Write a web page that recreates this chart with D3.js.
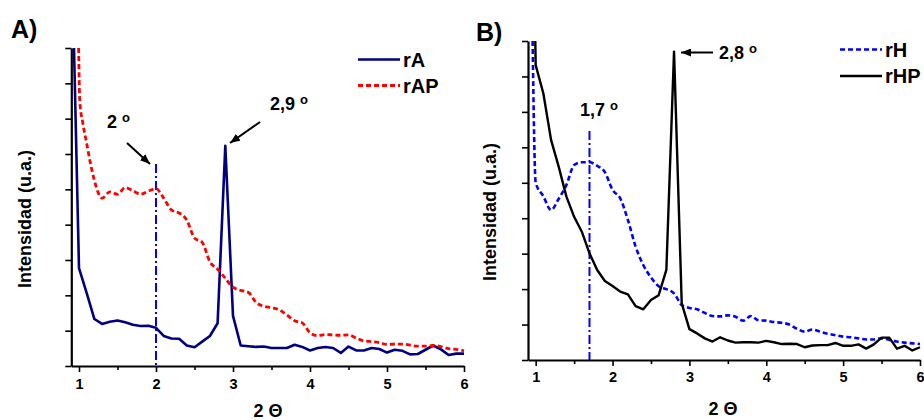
<!DOCTYPE html>
<html>
<head>
<meta charset="utf-8">
<script src="https://cdn.jsdelivr.net/npm/d3@7"></script>
<style>
  body { margin: 0; background: #fff; }
  svg { display: block; }
  text { font-family: "Liberation Sans", Arial, Helvetica, sans-serif; font-weight: bold; fill: #000; }
</style>
</head>
<body>
<svg id="chart" width="924" height="420"></svg>
<script>
// 2θ grid of the diffractograms (degrees)
const twoTheta = [1.0,1.1,1.2,1.3,1.4,1.5,1.6,1.7,1.8,1.9,
                  2.0,2.1,2.2,2.3,2.4,2.5,2.6,2.7,2.8,2.9,
                  3.0,3.1,3.2,3.3,3.4,3.5,3.6,3.7,3.8,3.9,
                  4.0,4.1,4.2,4.3,4.4,4.5,4.6,4.7,4.8,4.9,
                  5.0,5.1,5.2,5.3,5.4,5.5,5.6,5.7,5.8,5.9,6.0];

// Panel A — sample rA (solid) and rAP (dashed), intensity in arbitrary units
const rA_x = [0.935, ...twoTheta];
const rA = [9.0,
  2.77,2.06,1.33,1.19,1.25,1.29,1.24,1.17,1.13,1.14,
  1.08,0.85,0.78,0.77,0.58,0.53,0.69,0.85,1.21,6.23,
  1.42,0.58,0.56,0.54,0.55,0.51,0.51,0.51,0.60,0.54,
  0.44,0.51,0.54,0.51,0.37,0.55,0.44,0.44,0.51,0.48,
  0.38,0.46,0.43,0.33,0.34,0.46,0.58,0.47,0.31,0.35,0.35];

const rAP_x = [0.995,1.01,1.05,1.1,1.15,1.2,1.25, ...twoTheta.slice(3)];
const rAP = [9.0,7.5,6.87,6.3,5.72,5.25,4.9,
  4.75,4.93,4.86,5.05,4.96,4.86,4.95,
  5.02,4.75,4.42,4.33,4.13,3.62,3.50,2.95,2.74,2.48,
  2.23,2.14,2.08,1.80,1.69,1.65,1.59,1.44,1.28,1.22,
  0.94,0.86,0.89,0.88,0.87,0.88,0.79,0.71,0.69,0.66,
  0.61,0.62,0.62,0.59,0.56,0.56,0.58,0.55,0.49,0.47,0.43];

// Panel B — sample rH (dashed) and rHP (solid)
const rH_x = [0.96, ...twoTheta];
const rH = [9.0,
  5.00,4.62,4.23,4.55,4.94,5.50,5.58,5.58,5.48,5.30,
  4.80,4.56,3.95,3.20,2.68,2.33,2.08,2.00,1.88,1.55,
  1.47,1.43,1.33,1.24,1.23,1.26,1.22,1.11,1.24,1.12,
  1.11,1.07,1.05,1.00,0.88,0.80,0.86,0.80,0.74,0.70,
  0.66,0.64,0.61,0.58,0.58,0.61,0.57,0.52,0.49,0.47,0.45];

const rHP_x = [0.995, ...twoTheta];
const rHP = [9.0,
  8.32,7.52,6.21,5.45,4.61,4.04,3.62,3.01,2.54,2.23,
  2.09,1.93,1.85,1.52,1.43,1.69,1.83,2.54,8.70,1.60,
  0.87,0.75,0.61,0.52,0.64,0.55,0.49,0.50,0.50,0.49,
  0.54,0.50,0.45,0.46,0.45,0.36,0.41,0.42,0.42,0.48,
  0.40,0.40,0.44,0.32,0.44,0.63,0.63,0.32,0.40,0.27,0.36];

// axis ticks
const xMajorTicks = [1, 2, 3, 4, 5, 6];
const xMinorTicks = [1.5, 2.5, 3.5, 4.5, 5.5];
const yTicks = [0, 1, 2, 3, 4, 5, 6, 7, 8, 9];

// texts
const panelTitles = ["A)", "B)"];
const yTitle = "Intensidad (u.a.)";
const xTitle = "2 \u0398";

const svg = d3.select("#chart");

svg.append("defs").append("marker")
  .attr("id", "arrowhead")
  .attr("viewBox", "0 0 10 8")
  .attr("refX", 10).attr("refY", 4)
  .attr("markerUnits", "userSpaceOnUse")
  .attr("markerWidth", 10).attr("markerHeight", 8)
  .attr("orient", "auto")
  .append("path").attr("d", "M0,0L10,4L0,8Z").attr("fill", "#000");

function drawPanel(p) {
  const g = svg.append("g");
  const x = d3.scaleLinear().domain([0.9, 6]).range([p.left, p.right]);
  const y = d3.scaleLinear().domain([0, 9]).range([p.bottom, p.top]);

  // y axis: unlabeled ticks
  const ya = g.append("g").attr("transform", `translate(${p.left},0)`)
    .call(d3.axisLeft(y).tickValues(yTicks).tickSize(6).tickSizeOuter(0).tickFormat(""));
  // x axis: minor ticks, then labelled major ticks
  const xm = g.append("g").attr("transform", `translate(0,${p.bottom})`)
    .call(d3.axisBottom(x).tickValues(xMinorTicks).tickSize(4).tickSizeOuter(0).tickFormat(""));
  xm.select(".domain").remove();
  const xa = g.append("g").attr("transform", `translate(0,${p.bottom})`)
    .call(d3.axisBottom(x).tickValues(xMajorTicks).tickSize(6).tickSizeOuter(0)
      .tickPadding(p.tickPad).tickFormat(d3.format("d")));
  [ya, xm, xa].forEach(a => {
    a.select(".domain").attr("stroke", "#000").attr("stroke-width", 2.2);
    a.selectAll(".tick line").attr("stroke", "#000").attr("stroke-width", 1.6);
    a.selectAll("text").attr("font-size", 14.5).attr("font-family", null).attr("fill", "#000");
  });

  // reference line marking the low-angle reflection
  g.append("line")
    .attr("x1", x(p.refX)).attr("x2", x(p.refX))
    .attr("y1", y(p.refTop)).attr("y2", y(0))
    .attr("stroke", "#0000ff").attr("stroke-width", 2)
    .attr("stroke-dasharray", "9,3,2,3");

  // series
  p.series.forEach(s => {
    const pts = s.x.map((v, i) => [v, s.y[i]]);
    const line = d3.line().x(d => x(d[0])).y(d => y(d[1]))
      .curve(s.smooth ? d3.curveMonotoneX : d3.curveLinear);
    g.append("path").datum(pts)
      .attr("d", line)
      .attr("fill", "none")
      .attr("stroke", s.color)
      .attr("stroke-width", s.width)
      .attr("stroke-linejoin", "round")
      .attr("stroke-dasharray", s.dash || null);
  });

  // legend
  p.series.forEach((s, i) => {
    const ly = p.legendY + i * p.legendGap;
    g.append("line")
      .attr("x1", p.legendX).attr("x2", p.legendX + 42)
      .attr("y1", ly).attr("y2", ly)
      .attr("stroke", s.color).attr("stroke-width", s.width)
      .attr("stroke-dasharray", s.dash || null);
    g.append("text")
      .attr("x", p.legendX + 45).attr("y", ly + 7)
      .attr("font-size", 20).text(s.name);
  });

  // annotations with arrows
  p.notes.forEach(n => {
    const t = g.append("text").attr("x", n.tx).attr("y", n.ty).attr("font-size", 18);
    t.append("tspan").text(n.label + " ");
    t.append("tspan").attr("font-size", 13).attr("dy", -6).text("o");
    if (n.arrow) {
      g.append("line")
        .attr("x1", n.arrow[0]).attr("y1", n.arrow[1])
        .attr("x2", n.arrow[2]).attr("y2", n.arrow[3])
        .attr("stroke", "#000").attr("stroke-width", 2)
        .attr("marker-end", "url(#arrowhead)");
    }
  });

  // titles
  g.append("text").attr("x", p.titleX).attr("y", p.titleY)
    .attr("font-size", 25).text(p.title);
  g.append("text")
    .attr("transform", `translate(${p.yTitleX},${p.yTitleY}) rotate(-90)`)
    .attr("text-anchor", "middle").attr("font-size", 18).text(yTitle);
  g.append("text").attr("x", p.xTitleX).attr("y", p.xTitleY)
    .attr("text-anchor", "middle").attr("font-size", 18).text(xTitle);
}

drawPanel({
  left: 71.3, right: 464, top: 48, bottom: 366, tickPad: 7,
  refX: 2.0, refTop: 5.72,
  series: [
    { name: "rA", x: rA_x, y: rA, color: "#000080", width: 2.6 },
    { name: "rAP", x: rAP_x, y: rAP, color: "#ff0000", width: 2.8, dash: "5,3", smooth: true }
  ],
  legendX: 358, legendY: 59.5, legendGap: 26,
  notes: [
    { label: "2", tx: 107, ty: 128, arrow: [127, 143, 150, 164] },
    { label: "2,9", tx: 270, ty: 110, arrow: [260, 122, 230, 143] }
  ],
  title: panelTitles[0], titleX: 11, titleY: 38,
  yTitleX: 30.5, yTitleY: 219, xTitleX: 268, xTitleY: 416.5
});

drawPanel({
  left: 528, right: 920, top: 41, bottom: 360, tickPad: 6,
  refX: 1.7, refTop: 6.46,
  series: [
    { name: "rH", x: rH_x, y: rH, color: "#0000ff", width: 2.6, dash: "5,3", smooth: true },
    { name: "rHP", x: rHP_x, y: rHP, color: "#000000", width: 2.4 }
  ],
  legendX: 840, legendY: 49.5, legendGap: 26.5,
  notes: [
    { label: "1,7", tx: 580, ty: 116 },
    { label: "2,8", tx: 719, ty: 58.5, arrow: [713, 52.5, 681, 52.5] }
  ],
  title: panelTitles[1], titleX: 476, titleY: 40.5,
  yTitleX: 496, yTitleY: 212, xTitleX: 723, xTitleY: 415
});
</script>
</body>
</html>
